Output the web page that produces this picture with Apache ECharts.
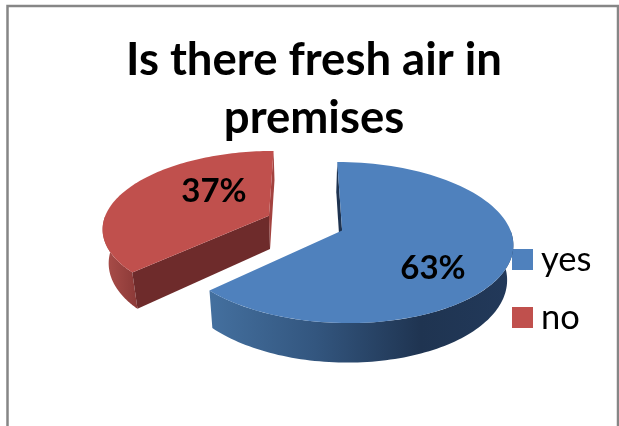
<!DOCTYPE html>
<html><head><meta charset="utf-8">
<style>html,body{margin:0;padding:0;background:#fff}#c{width:619px;height:426px}</style>
<script src="https://cdn.jsdelivr.net/npm/echarts@6/dist/echarts.min.js"></script>
</head><body><div id="c"></div>
<script>
var categories = ['yes', 'no'];
var values = [63, 37];
var labels = ['63%', '37%'];

// projection of the tilted pie
var CX = 305, CY = 223, R = 166, RQ = 76.5, P = 0.1486, EXPLODE = 0.24;
var WALL_DY = 33.5, WALL_SX = 0.97, WALL_SY = 1.06;
var total = values[0] + values[1];

function project(u, v, low) {
  var d = 1 + P * v;
  var x = CX + R * u / d, y = CY - RQ * v / d;
  if (low) { x = CX + (x - CX) * WALL_SX; y = CY + WALL_DY + (y - CY) * WALL_SY; }
  return [x, y];
}
function angles(i) {
  var s = 0;
  for (var k = 0; k < i; k++) s += values[k];
  return [s / total * 2 * Math.PI, (s + values[i]) / total * 2 * Math.PI];
}
function centre(i) {
  var a = angles(i), m = (a[0] + a[1]) / 2;
  return [EXPLODE * Math.sin(m), EXPLODE * Math.cos(m)];
}
function rim(i, t, low) {
  var c = centre(i);
  return project(c[0] + Math.sin(t), c[1] + Math.cos(t), low);
}
function arc(i, t0, t1, low) {
  var pts = [];
  for (var k = 0; k <= 96; k++) pts.push(rim(i, t0 + (t1 - t0) * k / 96, low));
  return pts;
}
function poly(points, fill, z2) {
  return { type: 'polygon', z2: z2, shape: { points: points }, style: { fill: fill } };
}
function grad(x0, x1, stops) {
  return { type: 'linear', global: true, x: x0, y: 0, x2: x1, y2: 0,
    colorStops: stops.map(function (s) { return { offset: s[0], color: s[1] }; }) };
}
var styles = [
  { top: '#4f81bd', radial: '#1e3350', wall: grad(209, 512, [[0, '#44709f'], [0.35, '#33567f'], [0.7, '#1f3451'], [1, '#22395a']]) },
  { top: '#c0504d', radial: '#6e2b2b', wall: grad(104, 136, [[0, '#ab4e4a'], [1, '#8c3a38']]), side: '#a3423f' }
];

function renderSlice(i) {
  return function () {
    var a = angles(i), c = centre(i), st = styles[i], kids = [];
    var ap = project(c[0], c[1], false), apLow = project(c[0], c[1], true);
    var t0 = Math.max(a[0], Math.PI / 2), t1 = Math.min(a[1], 3 * Math.PI / 2);
    kids.push(poly(arc(i, t0, t1, false).concat(arc(i, t0, t1, true).reverse()), st.wall, 1));
    var startT = rim(i, a[0], false), startL = rim(i, a[0], true);
    kids.push(poly([startT, ap, apLow, startL], st.radial, 3));
    if (st.side) {
      var endT = rim(i, a[1], false), endL = rim(i, a[1], true);
      kids.push(poly([ap, endT, endL, apLow], st.side, 2));
    }
    kids.push(poly([ap].concat(arc(i, a[0], a[1], false)), st.top, 5));
    return { type: 'group', children: kids };
  };
}
function renderLabel(i, x, y) {
  return function () {
    return { type: 'text', z2: 10, x: x, y: y,
      style: { text: labels[i], fill: '#000', font: 'bold 33px Lato', textAlign: 'center', textVerticalAlign: 'middle' } };
  };
}

var option = {
  animation: false,
  backgroundColor: '#fff',
  graphic: [{ type: 'polyline', silent: true, z: 0,
    shape: { points: [[7.5, 426], [7.5, 6], [618, 6], [618, 426]] },
    style: { stroke: '#868686', lineWidth: 2.5, fill: 'none' } }],
  title: {
    text: 'Is there fresh air in\npremises', left: 309, top: 26, textAlign: 'center',
    textStyle: { fontFamily: 'Lato', fontWeight: 'bold', fontSize: 45.5, lineHeight: 58, color: '#000' }
  },
  legend: {
    orient: 'vertical', left: 512, top: 242, padding: 0, itemWidth: 21, itemHeight: 21, itemGap: 23, z: 1,
    icon: 'rect', data: categories,
    textStyle: { fontFamily: 'Lato', fontSize: 34.5, lineHeight: 30, color: '#000', padding: [0, 0, 3, 3] }
  },
  series: [
    { type: 'custom', name: categories[1], coordinateSystem: 'none', z: 3, data: [values[1]],
      renderItem: renderSlice(1), color: styles[1].top, silent: true },
    { type: 'custom', name: categories[0], coordinateSystem: 'none', z: 4, data: [values[0]],
      renderItem: renderSlice(0), color: styles[0].top, silent: true },
    { type: 'custom', name: 'labels', coordinateSystem: 'none', z: 5, data: [values[1]],
      renderItem: renderLabel(1, 214, 191), silent: true },
    { type: 'custom', name: 'labels', coordinateSystem: 'none', z: 5, data: [values[0]],
      renderItem: renderLabel(0, 433, 268), silent: true }
  ]
};
echarts.init(document.getElementById('c'), null, { renderer: 'canvas' }).setOption(option);
</script></body></html>
